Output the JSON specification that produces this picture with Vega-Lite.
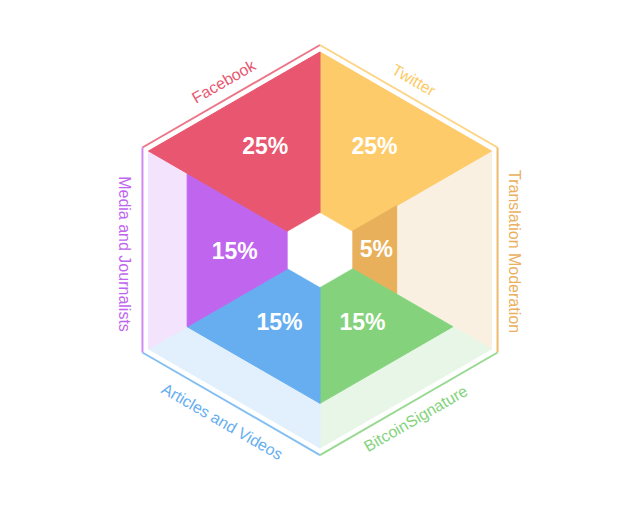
{
  "$schema": "https://vega.github.io/schema/vega-lite/v6.json",
  "autosize": {"type": "fit", "contains": "padding"},
  "width": 640,
  "height": 512,
  "padding": 0,
  "background": "white",
  "config": {"view": {"stroke": null}, "font": "Liberation Sans"},
  "datasets": {
    "tint": [
      {"category": "Twitter", "order": 0, "x": 0, "y": 0},
      {"category": "Twitter", "order": 1, "x": 0, "y": 1},
      {"category": "Twitter", "order": 2, "x": 0.866, "y": 0.5},
      {"category": "Twitter", "order": 3, "x": 0, "y": 0},
      {"category": "Translation Moderation", "order": 0, "x": 0, "y": 0},
      {"category": "Translation Moderation", "order": 1, "x": 0.866, "y": 0.5},
      {"category": "Translation Moderation", "order": 2, "x": 0.866, "y": -0.5},
      {"category": "Translation Moderation", "order": 3, "x": 0, "y": 0},
      {"category": "BitcoinSignature", "order": 0, "x": 0, "y": 0},
      {"category": "BitcoinSignature", "order": 1, "x": 0.866, "y": -0.5},
      {"category": "BitcoinSignature", "order": 2, "x": 0, "y": -1},
      {"category": "BitcoinSignature", "order": 3, "x": 0, "y": 0},
      {"category": "Articles and Videos", "order": 0, "x": 0, "y": 0},
      {"category": "Articles and Videos", "order": 1, "x": 0, "y": -1},
      {"category": "Articles and Videos", "order": 2, "x": -0.866, "y": -0.5},
      {"category": "Articles and Videos", "order": 3, "x": 0, "y": 0},
      {"category": "Media and Journalists", "order": 0, "x": 0, "y": 0},
      {"category": "Media and Journalists", "order": 1, "x": -0.866, "y": -0.5},
      {"category": "Media and Journalists", "order": 2, "x": -0.866, "y": 0.5},
      {"category": "Media and Journalists", "order": 3, "x": 0, "y": 0},
      {"category": "Facebook", "order": 0, "x": 0, "y": 0},
      {"category": "Facebook", "order": 1, "x": -0.866, "y": 0.5},
      {"category": "Facebook", "order": 2, "x": 0, "y": 1},
      {"category": "Facebook", "order": 3, "x": 0, "y": 0}
    ],
    "fill": [
      {"category": "Twitter", "value": 25, "order": 0, "x": 0, "y": 0},
      {"category": "Twitter", "value": 25, "order": 1, "x": 0, "y": 1},
      {"category": "Twitter", "value": 25, "order": 2, "x": 0.866, "y": 0.5},
      {"category": "Twitter", "value": 25, "order": 3, "x": 0, "y": 0},
      {"category": "Translation Moderation", "value": 5, "order": 0, "x": 0, "y": 0},
      {"category": "Translation Moderation", "value": 5, "order": 1, "x": 0.3873, "y": 0.2236},
      {"category": "Translation Moderation", "value": 5, "order": 2, "x": 0.3873, "y": -0.2236},
      {"category": "Translation Moderation", "value": 5, "order": 3, "x": 0, "y": 0},
      {"category": "BitcoinSignature", "value": 15, "order": 0, "x": 0, "y": 0},
      {"category": "BitcoinSignature", "value": 15, "order": 1, "x": 0.6708, "y": -0.3873},
      {"category": "BitcoinSignature", "value": 15, "order": 2, "x": 0, "y": -0.7746},
      {"category": "BitcoinSignature", "value": 15, "order": 3, "x": 0, "y": 0},
      {"category": "Articles and Videos", "value": 15, "order": 0, "x": 0, "y": 0},
      {"category": "Articles and Videos", "value": 15, "order": 1, "x": 0, "y": -0.7746},
      {"category": "Articles and Videos", "value": 15, "order": 2, "x": -0.6708, "y": -0.3873},
      {"category": "Articles and Videos", "value": 15, "order": 3, "x": 0, "y": 0},
      {"category": "Media and Journalists", "value": 15, "order": 0, "x": 0, "y": 0},
      {"category": "Media and Journalists", "value": 15, "order": 1, "x": -0.6708, "y": -0.3873},
      {"category": "Media and Journalists", "value": 15, "order": 2, "x": -0.6708, "y": 0.3873},
      {"category": "Media and Journalists", "value": 15, "order": 3, "x": 0, "y": 0},
      {"category": "Facebook", "value": 25, "order": 0, "x": 0, "y": 0},
      {"category": "Facebook", "value": 25, "order": 1, "x": -0.866, "y": 0.5},
      {"category": "Facebook", "value": 25, "order": 2, "x": 0, "y": 1},
      {"category": "Facebook", "value": 25, "order": 3, "x": 0, "y": 0}
    ],
    "hole": [
      {"order": 0, "x": 0, "y": 0.187},
      {"order": 1, "x": 0.162, "y": 0.0935},
      {"order": 2, "x": 0.162, "y": -0.0935},
      {"order": 3, "x": 0, "y": -0.187},
      {"order": 4, "x": -0.162, "y": -0.0935},
      {"order": 5, "x": -0.162, "y": 0.0935},
      {"order": 6, "x": 0, "y": 0.187}
    ],
    "edges": [
      {"category": "Facebook", "x": -0.8967, "y": 0.5177, "x2": 0, "y2": 1.0354},
      {"category": "Twitter", "x": 0, "y": 1.0354, "x2": 0.8967, "y2": 0.5177},
      {"category": "Translation Moderation", "x": 0.8967, "y": 0.5177, "x2": 0.8967, "y2": -0.5177},
      {"category": "BitcoinSignature", "x": 0.8967, "y": -0.5177, "x2": 0, "y2": -1.0354},
      {"category": "Articles and Videos", "x": 0, "y": -1.0354, "x2": -0.8967, "y2": -0.5177},
      {"category": "Media and Journalists", "x": -0.8967, "y": -0.5177, "x2": -0.8967, "y2": 0.5177}
    ],
    "pct": [
      {"category": "Facebook", "label": "25%", "x": -0.2763, "y": 0.5202},
      {"category": "Twitter", "label": "25%", "x": 0.2753, "y": 0.5227},
      {"category": "Translation Moderation", "label": "5%", "x": 0.2843, "y": -0.0025},
      {"category": "BitcoinSignature", "label": "15%", "x": 0.2146, "y": -0.3662},
      {"category": "Articles and Videos", "label": "15%", "x": -0.2045, "y": -0.3662},
      {"category": "Media and Journalists", "label": "15%", "x": -0.4308, "y": -0.0101}
    ],
    "names": [
      {"category": "Facebook", "x": -0.4848, "y": 0.8485},
      {"category": "Twitter", "x": 0.4722, "y": 0.8561},
      {"category": "Translation Moderation", "x": 0.9815, "y": -0.0076},
      {"category": "BitcoinSignature", "x": 0.4848, "y": -0.8535},
      {"category": "Articles and Videos", "x": -0.4949, "y": -0.8687},
      {"category": "Media and Journalists", "x": -0.9899, "y": -0.0202}
    ]
  },
  "encoding": {
    "x": {"field": "x", "type": "quantitative", "axis": null, "scale": {"domain": [-1.61616, 1.61616], "nice": false, "zero": false}},
    "y": {"field": "y", "type": "quantitative", "axis": null, "scale": {"domain": [-1.32323, 1.26263], "nice": false, "zero": false}}
  },
  "layer": [
    {
      "data": {"name": "tint"},
      "mark": {"type": "line", "strokeWidth": 1, "strokeJoin": "miter"},
      "encoding": {
        "order": {"field": "order", "type": "quantitative"},
        "fill": {"field": "category", "type": "nominal", "legend": null,
          "scale": {"domain": ["Facebook", "Twitter", "Translation Moderation", "BitcoinSignature", "Articles and Videos", "Media and Journalists"],
                    "range": ["#FBE3E7", "#FFF4E0", "#FAF0E1", "#E7F6E6", "#E2EFFC", "#F4E3FC"]}},
        "stroke": {"field": "category", "type": "nominal", "legend": null,
          "scale": {"domain": ["Facebook", "Twitter", "Translation Moderation", "BitcoinSignature", "Articles and Videos", "Media and Journalists"],
                    "range": ["#FBE3E7", "#FFF4E0", "#FAF0E1", "#E7F6E6", "#E2EFFC", "#F4E3FC"]}}
      }
    },
    {
      "data": {"name": "fill"},
      "mark": {"type": "line", "strokeWidth": 1, "strokeJoin": "miter"},
      "encoding": {
        "order": {"field": "order", "type": "quantitative"},
        "fill": {"field": "category", "type": "nominal", "legend": null,
          "scale": {"domain": ["Facebook", "Twitter", "Translation Moderation", "BitcoinSignature", "Articles and Videos", "Media and Journalists"],
                    "range": ["#E8566F", "#FECB6A", "#E8B05B", "#84D37C", "#66AEF0", "#C066EE"]}},
        "stroke": {"field": "category", "type": "nominal", "legend": null,
          "scale": {"domain": ["Facebook", "Twitter", "Translation Moderation", "BitcoinSignature", "Articles and Videos", "Media and Journalists"],
                    "range": ["#E8566F", "#FECB6A", "#E8B05B", "#84D37C", "#66AEF0", "#C066EE"]}}
      }
    },
    {
      "data": {"name": "hole"},
      "mark": {"type": "line", "fill": "white", "stroke": "white", "strokeWidth": 0.5},
      "encoding": {
        "order": {"field": "order", "type": "quantitative"}
      }
    },
    {
      "data": {"name": "edges"},
      "mark": {"type": "rule", "strokeWidth": 2},
      "encoding": {
        "x2": {"field": "x2"},
        "y2": {"field": "y2"},
        "stroke": {"field": "category", "type": "nominal", "legend": null,
          "scale": {"domain": ["Facebook", "Twitter", "Translation Moderation", "BitcoinSignature", "Articles and Videos", "Media and Journalists"],
                    "range": ["#EC7689", "#FDD482", "#EDBB6B", "#98D992", "#85BFF2", "#D08AF1"]}}
      }
    },
    {
      "data": {"name": "pct"},
      "mark": {"type": "text", "fontSize": 23, "fontWeight": "bold", "fill": "white", "align": "center", "baseline": "middle", "font": "Liberation Sans"},
      "encoding": {
        "text": {"field": "label"}
      }
    },
    {
      "data": {"name": "names"},
      "transform": [{"filter": {"field": "category", "oneOf": ["Facebook", "BitcoinSignature"]}}],
      "mark": {"type": "text", "fontSize": 16, "angle": 330, "align": "center", "baseline": "middle", "font": "Liberation Sans"},
      "encoding": {
        "text": {"field": "category"},
        "fill": {"field": "category", "type": "nominal", "legend": null,
          "scale": {"domain": ["Facebook", "Twitter", "Translation Moderation", "BitcoinSignature", "Articles and Videos", "Media and Journalists"],
                    "range": ["#E8566F", "#FDC965", "#EAB060", "#84D37C", "#66AEF0", "#C066EE"]}}
      }
    },
    {
      "data": {"name": "names"},
      "transform": [{"filter": {"field": "category", "oneOf": ["Twitter", "Articles and Videos"]}}],
      "mark": {"type": "text", "fontSize": 16, "angle": 30, "align": "center", "baseline": "middle", "font": "Liberation Sans"},
      "encoding": {
        "text": {"field": "category"},
        "fill": {"field": "category", "type": "nominal", "legend": null,
          "scale": {"domain": ["Facebook", "Twitter", "Translation Moderation", "BitcoinSignature", "Articles and Videos", "Media and Journalists"],
                    "range": ["#E8566F", "#FDC965", "#EAB060", "#84D37C", "#66AEF0", "#C066EE"]}}
      }
    },
    {
      "data": {"name": "names"},
      "transform": [{"filter": {"field": "category", "oneOf": ["Translation Moderation", "Media and Journalists"]}}],
      "mark": {"type": "text", "fontSize": 16, "angle": 90, "align": "center", "baseline": "middle", "font": "Liberation Sans"},
      "encoding": {
        "text": {"field": "category"},
        "fill": {"field": "category", "type": "nominal", "legend": null,
          "scale": {"domain": ["Facebook", "Twitter", "Translation Moderation", "BitcoinSignature", "Articles and Videos", "Media and Journalists"],
                    "range": ["#E8566F", "#FDC965", "#EAB060", "#84D37C", "#66AEF0", "#C066EE"]}}
      }
    }
  ],
  "resolve": {"scale": {"fill": "independent", "stroke": "independent"}}
}
